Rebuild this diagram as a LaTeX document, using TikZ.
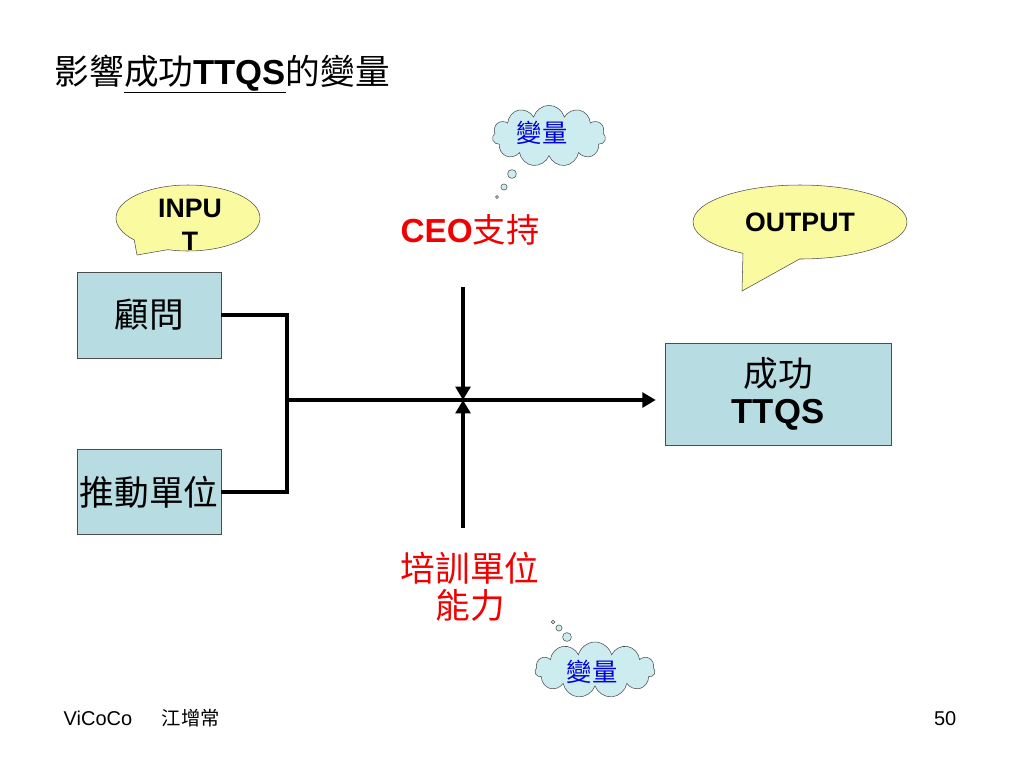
\documentclass[tikz,border=0pt]{standalone}
\usepackage{fontspec}
\setmainfont{Liberation Sans}
\newfontfamily\cjk{Noto Sans CJK TC}
\usetikzlibrary{positioning,arrows.meta,shapes.symbols,shapes.callouts}
\tikzset{>={Triangle[length=10pt,width=11pt]}}
\definecolor{boxblue}{RGB}{183,221,227}
\definecolor{cloudblue}{RGB}{204,236,240}
\definecolor{calloutyellow}{RGB}{250,250,160}
\definecolor{varblue}{RGB}{0,0,220}
\definecolor{keyred}{RGB}{240,0,0}

\begin{document}
\begin{tikzpicture}[x=0.75pt,y=-0.75pt,
  box/.style={draw=black!70,thin,fill=boxblue,font=\fontsize{26}{27.75}\selectfont,align=center},
  talk/.style={ellipse callout,draw=black!70,thin,fill=calloutyellow,callout pointer arc=32},
  thought/.style={cloud,cloud puffs=11,cloud ignores aspect,draw=black!70,thin,fill=cloudblue,
    font=\fontsize{19}{20}\selectfont\cjk,text=varblue},
  bubble/.style={draw=black!70,thin,fill=cloudblue},
  flow/.style={line width=3pt}]
\useasboundingbox (0,0) rectangle (1024,768);
% title
\node[anchor=base west,font=\fontsize{26}{28}\selectfont] (title) at (50,84)
  {{\cjk 影響}\underline{{\cjk 成功}\textbf{TTQS}}{\cjk 的變量}};
% boxes
\node[box,minimum width=108pt,minimum height=64.5pt] (gw) at (149,315) {\cjk 顧問};
\node[box,minimum width=108pt,minimum height=64pt,inner xsep=0.5pt] (td) at (149,492) {\cjk 推動單位};
\node[box,minimum width=169.5pt,minimum height=76.5pt] (ttqs) at (778,394)
  {{\cjk 成功}\\\textbf{TTQS}};
% callouts
\node[talk,minimum width=108pt,minimum height=49.5pt,callout absolute pointer={(137,255)}] (in) at (188,218) {};
\node[font=\fontsize{20}{24.75}\selectfont\bfseries,align=center] (intext) at (190,225) {INPU\\T};
\node[talk,minimum width=160.5pt,minimum height=55.5pt,callout absolute pointer={(742,291)}] (out) at (800,222) {};
\node[font=\fontsize{20}{22}\selectfont\bfseries] (outtext) at (800,222) {OUTPUT};
% influences
\node[text=keyred,font=\fontsize{25}{27}\selectfont] (ceo) at (470,230) {\textbf{CEO}{\cjk 支持}};
\node[text=keyred,font=\fontsize{26}{27.75}\selectfont\cjk,align=center] (px) at (470,587) {培訓單位\\能力};
% clouds
\node[thought,minimum width=85pt,minimum height=46pt] (v1) at (549,136) {};
\node[font=\fontsize{19}{20}\selectfont\cjk,text=varblue] (v1text) at (542,133) {變量};
\fill[bubble] (512,174) circle[radius=3.3pt];
\fill[bubble] (504,187) circle[radius=2.3pt];
\fill[bubble] (497,197) circle[radius=1.2pt];
\node[thought,minimum width=90pt,minimum height=42pt] (v2) at (595,670) {};
\node[font=\fontsize{19}{20}\selectfont\cjk,text=varblue] (v2text) at (592,672) {變量};
\fill[bubble] (567,637) circle[radius=3.3pt];
\fill[bubble] (559,628) circle[radius=2.3pt];
\fill[bubble] (553,622) circle[radius=1.4pt];
% connectors
\coordinate (J) at (287,400);
\coordinate (X) at (463,400);
\coordinate (T) at (463,287);
\coordinate (B) at (463,528);
\draw[flow] (gw.east) -| (J) |- (td.east);
\draw[flow,->] (J) -- (J -| ttqs.west) [shorten >=6.75pt];
\draw[flow,->] (T) -- (X);
\draw[flow,->] (B) -- (X);
% footer
\node[anchor=base west,font=\fontsize{15}{16}\selectfont] (vc) at (59,725) {ViCoCo};
\node[anchor=base west,font=\fontsize{14.5}{16}\selectfont\cjk] (auth) at (157,725) {江增常};
\node[anchor=base east,font=\fontsize{15}{16}\selectfont] (pg) at (961,725) {50};
\end{tikzpicture}
\end{document}
